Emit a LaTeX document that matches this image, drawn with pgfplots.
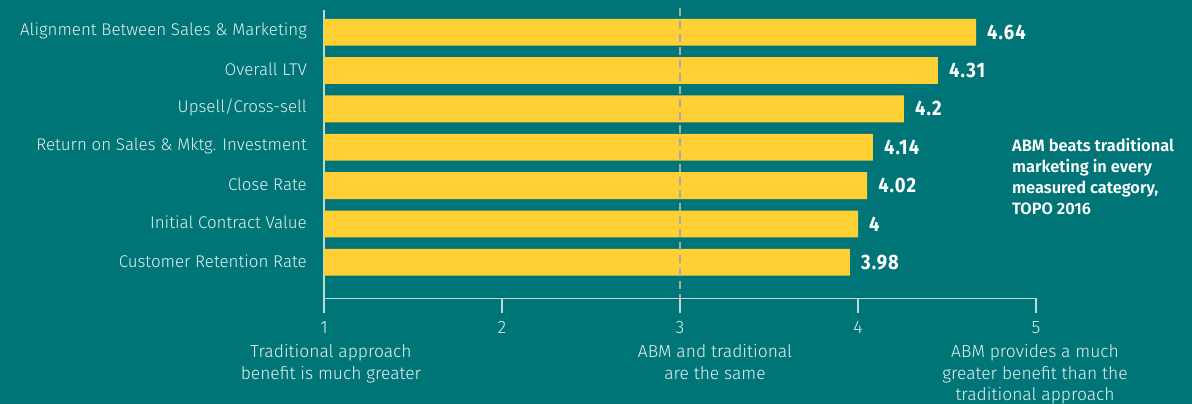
\documentclass[border=0pt]{standalone}
\usepackage{pgfplots}
\pgfplotsset{compat=1.18}
\usepackage{fontspec}
\setmainfont{Fira Sans}[UprightFont=* Light, BoldFont=* SemiBold]
\newfontfamily\valfont{Fira Sans}[UprightFont=* Bold, FakeStretch=0.88, LetterSpace=5]
\newfontfamily\notefont{Fira Sans}[UprightFont=* SemiBold]
\definecolor{bg}{RGB}{0,117,119}
\definecolor{baryellow}{RGB}{255,207,52}
\definecolor{axcol}{RGB}{190,215,215}
\definecolor{txt}{RGB}{228,242,240}
\definecolor{dashcol}{RGB}{165,172,168}
\begin{document}
\begin{tikzpicture}
\useasboundingbox (0bp,0bp) rectangle (1192bp,404bp);
\fill[bg] (0bp,0bp) rectangle (1192bp,404bp);
\begin{axis}[
  at={(324bp,105.7bp)}, anchor=south west,
  scale only axis, width=712bp, height=288.3bp,
  xmin=1, xmax=5, ymin=-0.94, ymax=6.58,
  axis x line*=bottom, axis y line*=left,
  axis line style={draw=axcol, line width=1.4bp},
  xtick={1,2,3,4,5},
  xticklabels={1,2,3,4,5},
  xtick style={draw=axcol, line width=1.4bp},
  major tick length=15bp, tick align=outside,
  xticklabel style={font=\fontsize{18}{20}\selectfont, text=txt, inner sep=0pt, yshift=-8bp},
  ytick={0,1,2,3,4,5,6},
  yticklabels={Customer Retention Rate, Initial Contract Value, Close Rate, Return on Sales \& Mktg. Investment, Upsell/Cross-sell, Overall LTV, Alignment Between Sales \& Marketing},
  ytick style={draw=none},
  yticklabel style={font=\fontsize{17}{21}\selectfont, text=txt, anchor=east, inner sep=0pt, xshift=-2bp, yshift=1.5bp},
  xbar, bar shift=0pt, bar width=0.7,
  nodes near coords,
  point meta=explicit symbolic,
  nodes near coords style={anchor=west, inner sep=0pt, xshift=11bp, font=\valfont\fontsize{21}{22}\selectfont, text=white},
  clip=false,
]
\addplot[fill=baryellow, draw=none] table[meta=lab] {
x y lab
4.663 6 4.64
4.449 5 4.31
4.258 4 4.2
4.084 3 4.14
4.051 2 4.02
4.000 1 4
3.955 0 3.98
};
\draw[dashcol, line width=2bp, dash pattern=on 8bp off 5bp] (axis cs:3,6.62) -- (axis cs:3,-0.94);
\end{axis}
\node[anchor=north, align=center, text=txt, font=\fontsize{17.5}{21.8}\selectfont, inner sep=0pt] at (331bp,60bp) {Traditional approach\\benefit is much greater};
\node[anchor=north, align=center, text=txt, font=\fontsize{17.5}{21.8}\selectfont, inner sep=0pt] at (715bp,60bp) {ABM and traditional\\are the same};
\node[anchor=north, align=center, text=txt, font=\fontsize{17.5}{21.8}\selectfont, inner sep=0pt] at (1035bp,60bp) {ABM provides a much\\greater benefit than the\\traditional approach};
\node[anchor=north west, align=left, text=white, font=\notefont\fontsize{16.5}{21}\selectfont, inner sep=0pt] at (1012bp,266bp) {ABM beats traditional\\marketing in every\\measured category,\\TOPO 2016};
\end{tikzpicture}
\end{document}
